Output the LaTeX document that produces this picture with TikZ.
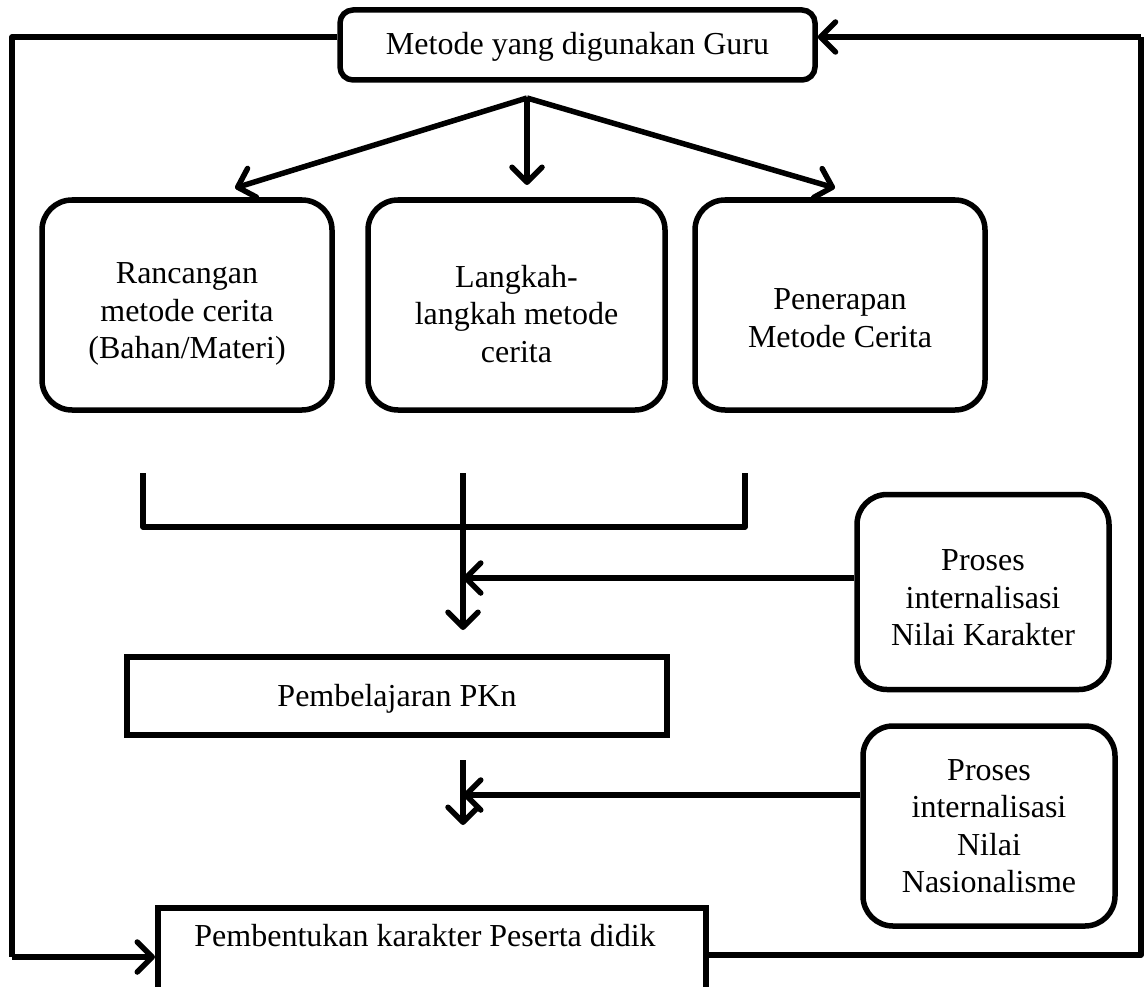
\documentclass[tikz,border=0pt]{standalone}
\usepackage{fontspec}
\setmainfont{Liberation Serif}
\usetikzlibrary{arrows.meta}
\begin{document}
\begin{tikzpicture}[x=1pt,y=-1pt,
  every node/.style={font=\fontsize{32}{37.5}\selectfont, inner sep=0pt},
  ln/.style={line width=5.5pt, line join=round},
  arr/.style={ln, -{Straight Barb[length=15pt,width=30pt,line cap=round,line join=round]}},
  rbox/.style={draw, line width=5.5pt, rounded corners=30pt},
  sbox/.style={draw, line width=5.5pt},
  txt/.style={align=center}]
\useasboundingbox (0,0) rectangle (1145,987);
% boxes
\node[draw, line width=5.5pt, rounded corners=13pt, minimum width=475pt, minimum height=70pt] (top) at (577.5,45) {};
\node (toptxt) at (577.5,47) {Metode yang digunakan Guru};
\node[rbox, minimum width=290pt, minimum height=210pt] (b1) at (187,305) {};
\node[txt] (b1t) at (187,314) {Rancangan\\metode cerita\\(Bahan/Materi)};
\node[rbox, minimum width=297pt, minimum height=210pt] (b2) at (516.5,305) {};
\node[txt] (b2t) at (516.5,314) {Langkah-\\langkah metode\\cerita};
\node[rbox, minimum width=290pt, minimum height=210pt] (b3) at (840,305) {};
\node[txt] (b3t) at (840,318) {Penerapan\\Metode Cerita};
\node[rbox, minimum width=252pt, minimum height=195pt] (p1) at (983,592) {};
\node[txt] (p1t) at (983,598) {Proses\\internalisasi\\Nilai Karakter};
\node[sbox, minimum width=540pt, minimum height=78pt] (pkn) at (397,696) {};
\node (pkntxt) at (397,699) {Pembelajaran PKn};
\node[rbox, minimum width=252pt, minimum height=200pt] (p2) at (989,826) {};
\node[txt] (p2t) at (989,826) {Proses\\internalisasi\\Nilai\\Nasionalisme};
\node[sbox, minimum width=548pt, minimum height=100pt, anchor=north west] (bot) at (155,905) {};
\node (bottxt) at (425,936) {Pembentukan karakter Peserta didik};
% top branching arrows
\coordinate (o) at (527,98);
\coordinate (t1) at (235,188);
\coordinate (t2) at (527,185);
\coordinate (t3) at (835,188);
\draw[arr] (o) -- (t1);
\draw[arr] (o) -- (t2);
\draw[arr] (o) -- (t3);
% bracket
\coordinate (k1) at (143,473);
\coordinate (k2) at (143,527);
\coordinate (k3) at (745,527);
\coordinate (k4) at (745,473);
\coordinate (m1) at (463,473);
\coordinate (m2) at (463,630);
\draw[ln] (k1) -- (k2) -- (k3) -- (k4);
\draw[arr] (m1) -- (m2);
\coordinate (h1) at (463,578);
\draw[arr] (p1.west |- h1) -- (h1);
% second
\coordinate (m3) at (463,760);
\coordinate (m4) at (463,825);
\draw[arr] (m3) -- (m4);
\coordinate (h2) at (463,795);
\draw[arr] (p2.west |- h2) -- (h2);
% left loop
\coordinate (la) at (12,37);
\coordinate (lb) at (12,957);
\draw[ln] (top.west |- la) -- (la) -- (lb);
\draw[arr] (lb) -- (bot.west |- lb);
% right loop
\coordinate (ra) at (1141,955);
\coordinate (rb) at (1141,37);
\draw[ln] (bot.east |- ra) -- (ra) -- (rb);
\draw[arr] (rb) -- (top.east |- rb);
\end{tikzpicture}
\end{document}
